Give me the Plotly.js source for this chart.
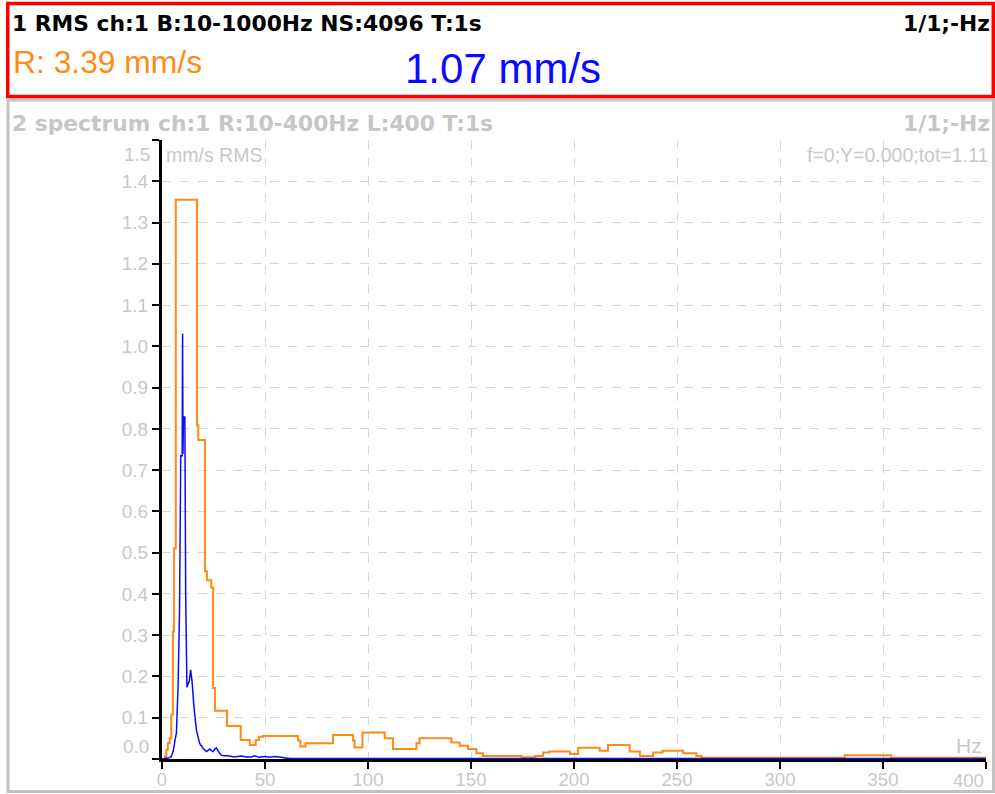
<!DOCTYPE html>
<html>
<head>
<meta charset="utf-8">
<script src="https://cdn.plot.ly/plotly-3.0.1.min.js"></script>
<style>
html,body{margin:0;padding:0;background:#fff;}
#chart{width:995px;height:794px;}
</style>
</head>
<body>
<div id="chart"></div>
<script>
// ---- data ----
const orangeHz = [0, 1.3, 2.1, 2.8, 3.7, 4.5, 5.3, 5.8, 6.7, 17.0, 17.6, 20.9, 21.8, 23.9, 24.8, 25.7,
  31.6, 38.2, 42.6, 45.5, 47.1, 49.0, 66.0, 67.2, 69.6, 83.0, 92.7, 93.5, 97.3,
  108.1, 112.1, 123.5, 125.0, 140.5, 144.5, 148.5, 152.6, 155.8, 174.5, 181, 185, 188, 198, 202,
  212.5, 216.5, 227, 232, 238.4, 243, 253, 259.4, 262, 331.4, 354, 400];
const orangeVal = [0, 0.006, 0.022, 0.038, 0.05, 0.107, 0.309, 0.511, 1.355, 0.809, 0.773, 0.455, 0.433, 0.415, 0.172, 0.117,
  0.080, 0.046, 0.034, 0.046, 0.054, 0.056, 0.045, 0.030, 0.038, 0.058, 0.045, 0.028, 0.064,
  0.050, 0.024, 0.038, 0.050, 0.040, 0.032, 0.024, 0.014, 0.007, 0.004, 0.007, 0.016, 0.018, 0.012, 0.027,
  0.020, 0.034, 0.018, 0.007, 0.016, 0.020, 0.014, 0.007, 0.003, 0.009, 0.003, 0.003];

const blueHz = [0, 2, 3.5, 4.5, 5.5, 6.3, 7.0, 7.8, 8.5, 9.1, 9.8, 10.0, 10.2, 10.4, 11.1, 11.5, 12.1, 12.7, 13.3,
  13.9, 14.6, 15.5, 16.7, 18.3, 19.9, 21.5, 22.4, 23.2, 24.0, 24.8, 25.6, 26.4, 27.2, 28.5, 30, 32, 35,
  38.5, 41, 43.4, 45, 47, 50, 52, 55, 58.7, 62, 100, 200, 300, 400];
const blueVal = [0, 0.001, 0.003, 0.006, 0.02, 0.045, 0.063, 0.175, 0.354, 0.735, 0.735, 1.031, 0.74, 0.829, 0.829, 0.398, 0.174, 0.184, 0.19,
  0.216, 0.188, 0.127, 0.07, 0.038, 0.026, 0.018, 0.022, 0.024, 0.02, 0.018, 0.024, 0.027, 0.02, 0.01, 0.008, 0.008, 0.005,
  0.007, 0.005, 0.005, 0.008, 0.004, 0.006, 0.004, 0.006, 0.004, 0.001, 0.001, 0.001, 0.001, 0.001];

const xTickVals = [0, 50, 100, 150, 200, 250, 300, 350, 400];
const xTickLabels = ['0', '50', '100', '150', '200', '250', '300', '350', '400'];
const yTickVals = [0, 0.1, 0.2, 0.3, 0.4, 0.5, 0.6, 0.7, 0.8, 0.9, 1.0, 1.1, 1.2, 1.3, 1.4, 1.5];
const yTickLabels = ['0.0','0.1','0.2','0.3','0.4','0.5','0.6','0.7','0.8','0.9','1.0','1.1','1.2','1.3','1.4','1.5'];

const header1 = '1 RMS ch:1 B:10-1000Hz NS:4096 T:1s';
const header1Right = '1/1;-Hz';
const rmsText = 'R: 3.39 mm/s';
const valueText = '1.07 mm/s';
const header2 = '2 spectrum ch:1 R:10-400Hz L:400 T:1s';
const header2Right = '1/1;-Hz';
const unitText = 'mm/s RMS';
const cursorText = 'f=0;Y=0.000;tot=1.11';
const xUnitText = 'Hz';

// ---- layout helpers (pixel -> paper) ----
const W = 995, H = 794, ML = 162, MR = 9, MT = 140, MB = 35;
const PW = W - ML - MR, PH = H - MT - MB;
const px = x => (x - ML) / PW;
const py = y => (H - MB - y) / PH;

const ORANGE = '#ff8a14';
const BLUE = '#0a0aff';
const GRAY = '#c6c6c6';
const TICKGRAY = '#c8c8c8';
const BOLD = 'DejaVu Sans, Liberation Sans, Arial, sans-serif';
const REG = 'Liberation Sans, Arial, sans-serif';

const traces = [
  {x: orangeHz, y: orangeVal, type: 'scatter', mode: 'lines',
   line: {color: ORANGE, width: 2, shape: 'hv'}, hoverinfo: 'skip'},
  {x: blueHz, y: blueVal, type: 'scatter', mode: 'lines',
   line: {color: BLUE, width: 1.5}, hoverinfo: 'skip'}
];

function ann(text, x, y, xanchor, size, color, family, weight) {
  return {text: text, x: px(x), y: py(y), xref: 'paper', yref: 'paper',
    xanchor: xanchor, yanchor: 'middle', showarrow: false,
    font: {family: family, size: size, color: color, weight: weight || 'normal'}};
}

const xTT = xTickLabels.slice(); xTT[xTT.length - 1] = '';
const yTT = yTickLabels.slice(); yTT[0] = ''; yTT[yTT.length - 1] = '';

const layout = {
  width: W, height: H,
  margin: {l: ML, r: MR, t: MT, b: MB, pad: 0},
  paper_bgcolor: '#ffffff', plot_bgcolor: '#ffffff',
  showlegend: false,
  font: {family: REG, color: TICKGRAY},
  xaxis: {range: [0, 400], tickvals: xTickVals, ticktext: xTT, showline: true, linecolor: '#000', linewidth: 3,
    ticks: 'outside', ticklen: 7, tickwidth: 2, tickcolor: '#000', ticklabelstandoff: -5,
    showgrid: true, gridcolor: '#d6d6d6', griddash: 'dash', gridwidth: 1, zeroline: false,
    tickfont: {family: REG, size: 18.5, color: TICKGRAY}, fixedrange: true},
  yaxis: {range: [0, 1.5], tickvals: yTickVals, ticktext: yTT, showline: true, linecolor: '#000', linewidth: 3,
    ticks: 'outside', ticklen: 7, tickwidth: 2, tickcolor: '#000',
    showgrid: true, gridcolor: '#d6d6d6', griddash: 'dash', gridwidth: 1, zeroline: false,
    tickfont: {family: REG, size: 19, color: TICKGRAY}, fixedrange: true},
  shapes: [
    {type: 'rect', xref: 'paper', yref: 'paper', x0: px(8), x1: px(993.5), y0: py(100), y1: py(791.5),
     line: {color: '#c2c2c2', width: 3}, fillcolor: 'rgba(0,0,0,0)'},
    {type: 'rect', xref: 'paper', yref: 'paper', x0: px(7.7), x1: px(993.3), y0: py(3.5), y1: py(96.5),
     line: {color: '#ff0000', width: 3.5}, fillcolor: 'rgba(0,0,0,0)'}
  ],
  annotations: [
    ann(header1, 10, 24, 'left', 21.8, '#000', BOLD, 'bold'),
    ann(header1Right, 992, 24, 'right', 21.8, '#000', BOLD, 'bold'),
    ann(rmsText, 11, 62, 'left', 31.8, ORANGE, REG),
    ann(valueText, 502.5, 68, 'center', 42, BLUE, REG),
    ann(header2, 10, 123, 'left', 21.8, GRAY, BOLD, 'bold'),
    ann(header2Right, 992, 123, 'right', 21.8, GRAY, BOLD, 'bold'),
    ann(unitText, 164, 155, 'left', 19.5, TICKGRAY, REG),
    ann(cursorText, 990, 155, 'right', 19.5, TICKGRAY, REG),
    ann(xUnitText, 984, 745, 'right', 21, TICKGRAY, REG),
    ann(yTickLabels[0], 151, 746, 'right', 19, TICKGRAY, REG),
    ann(yTickLabels[yTickLabels.length - 1], 152, 154, 'right', 19, TICKGRAY, REG),
    ann(xTickLabels[xTickLabels.length - 1], 986, 780, 'right', 18.5, TICKGRAY, REG)
  ]
};

Plotly.newPlot('chart', traces, layout, {displayModeBar: false, staticPlot: true});
</script>
</body>
</html>
